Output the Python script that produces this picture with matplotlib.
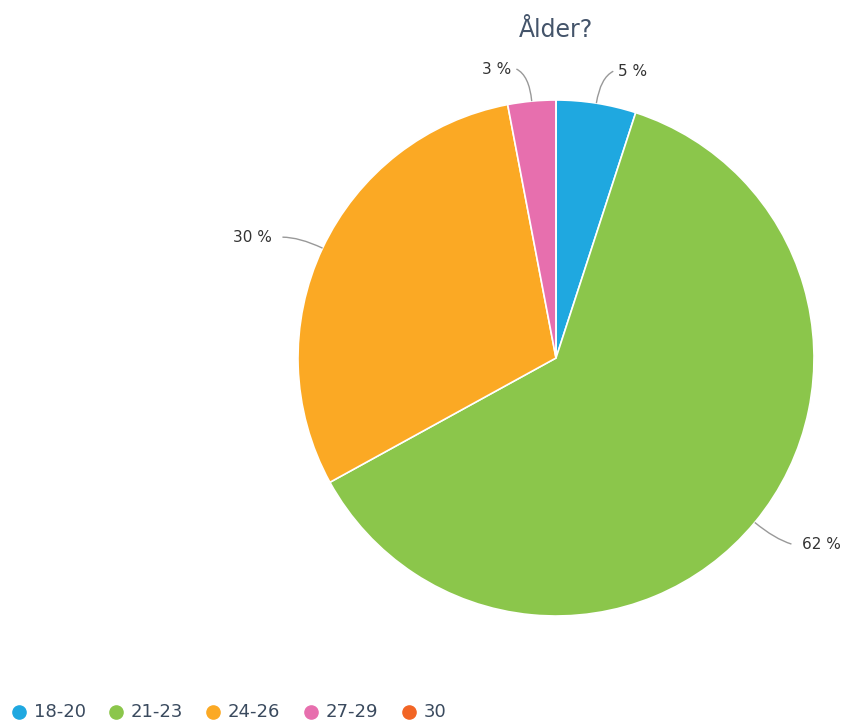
import numpy as np
import matplotlib
matplotlib.use("Agg")
import matplotlib.pyplot as plt
from matplotlib.path import Path
from matplotlib.patches import PathPatch
from matplotlib.lines import Line2D

plt.rcParams["font.family"] = ["DejaVu Sans"]

categories = ["18-20", "21-23", "24-26", "27-29", "30"]
values = [5, 62, 30, 3, 0]
colors = ["#1fa8e0", "#8bc64b", "#fba924", "#e76fae", "#f26525"]
title = "Ålder?"

W, H = 847, 724
fig = plt.figure(figsize=(W / 100, H / 100), dpi=100)
fig.patch.set_facecolor("white")

cx, cy, R = 556, 358, 258
ax = fig.add_axes([(cx - R) / W, (H - cy - R) / H, 2 * R / W, 2 * R / H])

wedges, _ = ax.pie(values, colors=colors, startangle=90, counterclock=False,
                   radius=1.0, wedgeprops=dict(edgecolor="white", linewidth=1.2))
ax.set_xlim(-1, 1)
ax.set_ylim(-1, 1)
ax.set_aspect("equal")
ax.axis("off")

# data labels with curved connectors
total = sum(values)
angle = 90.0
for v in values:
    span = 360.0 * v / total
    mid = np.deg2rad(angle - span / 2)
    angle -= span
    if v == 0:
        continue
    c, s = np.cos(mid), np.sin(mid)
    sign = 1 if c >= 0 else -1
    top = s > 0.9
    p0 = (1.0 * c, 1.0 * s)
    p1 = (1.1 * c, 1.1 * s)
    p2 = (p1[0] + sign * (0.05 if top else 0.065),
          p1[1] + (0.025 if top else -0.02 if s < -0.3 else 0.0))
    path = Path([p0, p1, p2], [Path.MOVETO, Path.CURVE3, Path.CURVE3])
    ax.add_patch(PathPatch(path, facecolor="none", edgecolor="#999999", lw=1.0, clip_on=False))
    gap = 0.02 if top else 0.04
    ax.text(p2[0] + sign * gap, p2[1], f"{v} %", ha="left" if sign > 0 else "right",
            va="center", fontsize=11, color="#333333", clip_on=False)

fig.text(cx / W, 1 - 30 / H, title, ha="center", va="center", fontsize=17, color="#44546a")

# legend along the bottom
lx = [19, 116, 213, 311, 409]
ly = 712
for x, lab, col in zip(lx, categories, colors):
    fig.add_artist(Line2D([x / W], [1 - ly / H], marker="o", markersize=9.5,
                          markerfacecolor=col, markeredgecolor=col, linestyle="none",
                          transform=fig.transFigure))
    fig.text((x + 15) / W, 1 - ly / H, lab, ha="left", va="center", fontsize=13,
             color="#3a4a5e")

fig.savefig("out.png", dpi=100, facecolor="white")
